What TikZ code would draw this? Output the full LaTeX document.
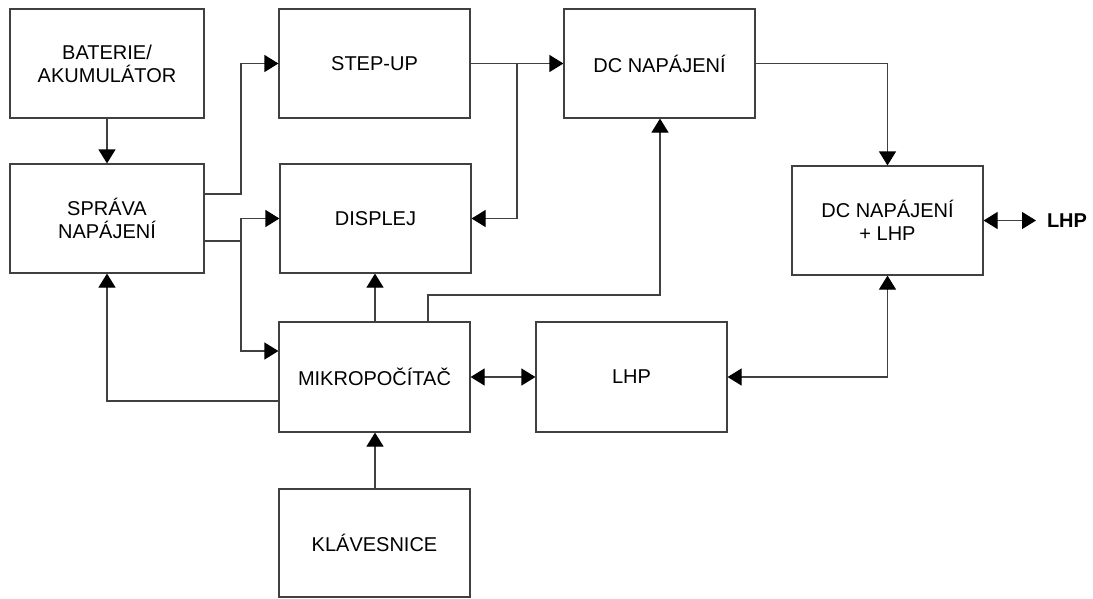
\documentclass[tikz,border=0pt]{standalone}
\usepackage{fontspec}
\setmainfont{Liberation Sans}
\usetikzlibrary{arrows.meta}
\tikzset{
  blk/.style={draw=black!75, line width=1.2pt, minimum width=191pt, minimum height=109pt,
    align=center, inner sep=0pt, font=\fontsize{20}{23}\selectfont},
  tip/.tip={Triangle[length=14pt,width=17pt,black]},
  conn/.style={draw=black!75, line width=1.2pt, -tip},
  dconn/.style={draw=black!75, line width=1.2pt, tip-tip},
  lbl/.style={font=\fontsize{20}{23}\selectfont\bfseries, inner sep=0pt}
}
\begin{document}
\begin{tikzpicture}[x=1pt, y=-1pt]
\useasboundingbox[fill=white] (0,0) rectangle (1093,598);
% boxes
\node[blk, minimum width=194pt] (bat) at (107,63.5) {BATERIE/\\AKUMULÁTOR};
\node[blk, minimum width=194pt] (spr) at (107,218.5) {SPRÁVA\\NAPÁJENÍ};
\node[blk] (step) at (374.5,63.5) {STEP-UP};
\node[blk] (disp) at (375.5,218.5) {DISPLEJ};
\node[blk] (dcn) at (659.5,63.5) {DC NAPÁJENÍ};
\node[blk] (dcl) at (887.5,220.5) {DC NAPÁJENÍ\\+ LHP};
\node[blk, minimum height=110pt] (mik) at (374.5,377) {MIKROPOČÍTAČ};
\node[blk, minimum height=110pt] (lhp) at (631.5,377) {LHP};
\node[blk, minimum height=108pt] (kla) at (374.5,543) {KLÁVESNICE};
\node[lbl] (lhpout) at (1067,221) {LHP};
\coordinate (lhpend) at (1036,220.5);
% connectors
\draw[conn] (bat.south) -- (spr.north);
\draw[conn] (spr.east |- 0,194) -- (241,194) |- (step.west);
\draw[conn] (spr.east |- 0,241) -- (241,241) |- (disp.west);
\draw[conn] (241,241) |- (mik.west |- 0,351);
\draw[conn] (step.east) -- (dcn.west);
\draw[conn] (517,63.5) |- (disp.east);
\draw[conn] (mik.north -| 375,0) -- (disp.south -| 375,0);
\draw[conn] (mik.north -| 428,0) |- (660,295) -- (dcn.south -| 660,0);
\draw[conn] (dcn.east) -| (dcl.north);
\draw[dconn] (dcl.east) -- (lhpend);
\draw[dconn] (mik.east) -- (lhp.west);
\draw[dconn] (dcl.south) |- (lhp.east);
\draw[conn] (mik.west |- 0,401) -| (spr.south);
\draw[conn] (kla.north -| 375,0) -- (mik.south -| 375,0);
\end{tikzpicture}
\end{document}
